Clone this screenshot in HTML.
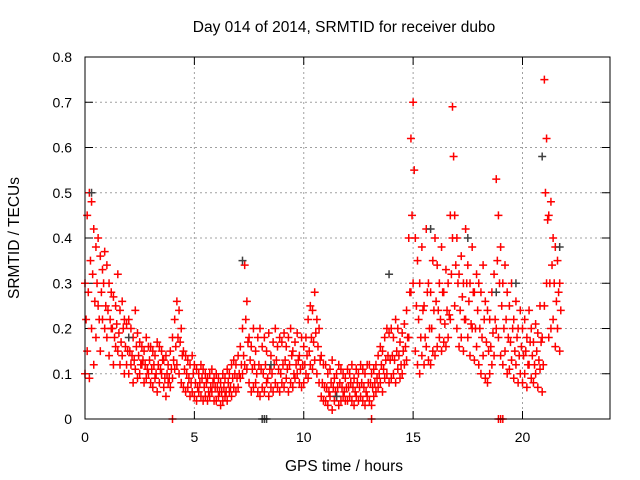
<!DOCTYPE html>
<html><head><meta charset="utf-8"><style>
body{margin:0;background:#fff}
svg{display:block;font-family:"Liberation Sans",sans-serif}
</style></head><body>
<svg id="chart" width="640" height="480" viewBox="0 0 640 480">
<rect width="640" height="480" fill="#fff"/>
<text x="344" y="32" text-anchor="middle" font-size="15.5">Day 014 of 2014, SRMTID for receiver dubo</text>
<text transform="translate(19,238) rotate(-90)" text-anchor="middle" font-size="15.5">SRMTID / TECUs</text>
<text x="344" y="471" text-anchor="middle" font-size="15.5">GPS time / hours</text>
<g id="grid"></g><g id="ticks"></g><g id="marks"></g>
<rect x="85" y="57" width="525" height="362" fill="none" stroke="#000" stroke-width="1"/>
</svg>
<script>
const xTicks=[0,5,10,15,20];
const yTicks=[0,0.1,0.2,0.3,0.4,0.5,0.6,0.7,0.8];
const yTickLabels=["0","0.1","0.2","0.3","0.4","0.5","0.6","0.7","0.8"];
const hours=[0.0,0.1,0.2,0.3,0.4,0.5,0.6,0.7,0.8,0.9,1.0,1.1,1.2,1.3,1.4,1.5,1.6,1.7,1.8,1.9,2.0,2.1,2.2,2.3,2.4,2.5,2.6,2.7,2.8,2.9,3.0,3.1,3.2,3.3,3.4,3.5,3.6,3.7,3.8,3.9,4.0,4.1,4.2,4.3,4.4,4.5,4.6,4.7,4.8,4.9,5.0,5.1,5.2,5.3,5.4,5.5,5.6,5.7,5.8,5.9,6.0,6.1,6.2,6.3,6.4,6.5,6.6,6.7,6.8,6.9,7.0,7.1,7.2,7.3,7.4,7.5,7.6,7.7,7.8,7.9,8.0,8.1,8.2,8.3,8.4,8.5,8.6,8.7,8.8,8.9,9.0,9.1,9.2,9.3,9.4,9.5,9.6,9.7,9.8,9.9,10.0,10.1,10.2,10.3,10.4,10.5,10.6,10.7,10.8,10.9,11.0,11.1,11.2,11.3,11.4,11.5,11.6,11.7,11.8,11.9,12.0,12.1,12.2,12.3,12.4,12.5,12.6,12.7,12.8,12.9,13.0,13.1,13.2,13.3,13.4,13.5,13.6,13.7,13.8,13.9,14.0,14.1,14.2,14.3,14.4,14.5,14.6,14.7,14.8,14.9,15.0,15.1,15.2,15.3,15.4,15.5,15.6,15.7,15.8,15.9,16.0,16.1,16.2,16.3,16.4,16.5,16.6,16.7,16.8,16.9,17.0,17.1,17.2,17.3,17.4,17.5,17.6,17.7,17.8,17.9,18.0,18.1,18.2,18.3,18.4,18.5,18.6,18.7,18.8,18.9,19.0,19.1,19.2,19.3,19.4,19.5,19.6,19.7,19.8,19.9,20.0,20.1,20.2,20.3,20.4,20.5,20.6,20.7,20.8,20.9,21.0,21.1,21.2,21.3,21.4,21.5,21.6,21.7];
const seriesHigh=[.30,.45,.50,.48,.42,.38,.40,.36,.33,.37, .34,.30,.28,.27,.25,.32,.24,.26,.22,.21, .22,.20,.18,.24,.19,.17,.16,.15,.18,.16, .16,.15,.14,.17,.16,.15,.13,.14,.12,.15, .18,.22,.26,.24,.20,.15,.14,.13,.12,.14, .12,.11,.10,.12,.11,.10,.09,.10,.11,.09, .10,.09,.08,.10,.09,.11,.10,.12,.13,.12, .14,.16,.20,.34,.26,.18,.16,.20,.15,.18, .20,.16,.18,.15,.19,.14,.17,.20,.16,.18, .17,.19,.16,.18,.20,.15,.17,.19,.14,.18, .16,.18,.22,.25,.24,.28,.22,.20,.14,.12, .12,.10,.11,.13,.09,.10,.12,.11,.10,.09, .11,.10,.12,.09,.11,.10,.12,.11,.10,.12, .12,.10,.11,.12,.14,.16,.15,.18,.20,.19, .20,.18,.22,.20,.17,.19,.21,.24,.40,.62, .70,.40,.35,.30,.38,.25,.42,.30,.28,.35, .40,.34,.30,.38,.28,.33,.30,.45,.69,.45, .40,.32,.36,.30,.42,.34,.30,.38,.28,.32, .30,.28,.34,.26,.24,.22,.28,.32,.53,.45, .38,.30,.34,.28,.25,.30,.22,.26,.20,.24, .20,.22,.18,.24,.20,.17,.21,.19,.25,.18, .75,.62,.45,.48,.40,.38,.35,.30];
const seriesMid=[.22,.28,.35,.32,.26,.30,.22,.28,.30,.25, .24,.22,.20,.18,.21,.19,.17,.20,.16,.15, .15,.14,.13,.16,.14,.12,.13,.12,.11,.13, .11,.12,.10,.12,.11,.13,.09,.10,.09,.11, .13,.16,.18,.17,.14,.11,.10,.09,.08,.10, .08,.07,.08,.09,.07,.08,.06,.07,.08,.07, .07,.06,.06,.07,.06,.08,.07,.09,.10,.09, .10,.12,.14,.22,.17,.13,.11,.12,.10,.12, .11,.10,.12,.09,.11,.10,.12,.13,.11,.10, .12,.13,.11,.12,.14,.10,.12,.13,.11,.12, .12,.14,.15,.18,.17,.19,.16,.13,.08,.07, .07,.06,.08,.07,.06,.07,.08,.07,.06,.07, .07,.08,.07,.06,.08,.07,.08,.07,.06,.08, .08,.07,.08,.09,.10,.12,.11,.13,.14,.13, .14,.13,.15,.14,.12,.15,.16,.18,.28,.45, .55,.25,.22,.18,.24,.18,.28,.20,.20,.24, .26,.24,.22,.28,.21,.24,.23,.32,.58,.34, .30,.24,.27,.22,.30,.26,.21,.28,.20,.24, .20,.18,.22,.17,.15,.16,.19,.22,.35,.30, .25,.20,.22,.18,.17,.20,.15,.18,.14,.16, .14,.15,.12,.17,.14,.12,.15,.13,.17,.12, .50,.44,.30,.34,.30,.26,.28,.24];
const seriesLow=[.10,.15,.09,.20,.12,.18,.25,.15,.22,.20, .18,.14,.20,.12,.16,.15,.12,.14,.10,.12, .10,.12,.08,.11,.09,.10,.12,.08,.09,.10, .08,.07,.09,.06,.08,.10,.07,.05,.08,.07, .09,.11,.12,.10,.08,.07,.06,.07,.05,.06, .05,.04,.06,.05,.04,.05,.04,.05,.06,.04, .04,.05,.03,.04,.05,.04,.06,.05,.07,.06, .07,.09,.10,.12,.11,.08,.06,.07,.08,.06, .05,.07,.06,.08,.05,.07,.06,.08,.07,.06, .08,.07,.09,.06,.08,.07,.09,.10,.08,.07, .08,.10,.09,.12,.11,.13,.10,.08,.05,.04, .04,.03,.05,.02,.04,.05,.03,.04,.05,.04, .04,.05,.04,.03,.05,.04,.05,.04,.03,.05, .04,.03,.05,.06,.07,.08,.06,.09,.10,.08, .09,.10,.08,.11,.09,.10,.12,.13,.18,.28, .30,.15,.12,.10,.14,.12,.16,.13,.12,.15, .14,.16,.18,.15,.17,.16,.18,.22,.40,.25, .20,.16,.18,.15,.22,.18,.14,.20,.13,.16, .12,.10,.14,.09,.08,.10,.12,.14,.20,.18, .14,.12,.15,.10,.11,.13,.09,.12,.08,.10, .08,.10,.07,.12,.09,.08,.10,.07,.11,.06, .25,.30,.18,.20,.22,.16,.20,.15];
const grayHours=[0.3,2.0,7.2,8.1,8.2,8.3,8.5,11.5,13.9,15.8,17.5,18.8,19.7,20.9,21.7];
const grayValues=[.50,.18,.35,0,0,0,.12,.05,.32,.42,.40,.28,.30,.58,.38];
const zeroHours=[4.0,13.1,18.9,19.0,19.1];
const zeroValues=[0,0,0,0,0];

const X0=85,X1=610,Y0=419,Y1=57;
const xs=h=>X0+(h/24)*(X1-X0);
const ys=v=>Y0-(v/0.8)*(Y0-Y1);
const NS="http://www.w3.org/2000/svg";
function mk(tag,attrs,parent){const e=document.createElementNS(NS,tag);for(const k in attrs)e.setAttribute(k,attrs[k]);parent.appendChild(e);return e;}
const grid=document.getElementById('grid'),ticks=document.getElementById('ticks'),marks=document.getElementById('marks');
yTicks.forEach((t,i)=>{const y=ys(t);
 if(i>0&&i<yTicks.length-1){const g=mk('line',{x1:X0,x2:X1,y1:y,y2:y,stroke:'#a0a0a0','stroke-dasharray':'2,3'},grid);
 
 }
 mk('line',{x1:X0,x2:X0+8,y1:y,y2:y,stroke:'#000'},ticks);
 mk('line',{x1:X1-8,x2:X1,y1:y,y2:y,stroke:'#000'},ticks);
 const tx=mk('text',{x:72,y:y+5,'text-anchor':'end','font-size':'14'},ticks);tx.textContent=yTickLabels[i];
 
 
});
xTicks.forEach(t=>{const x=xs(t);
 if(t>0){const g=mk('line',{x1:x,x2:x,y1:Y1,y2:Y0,stroke:'#a0a0a0','stroke-dasharray':'2,3'},grid);
 
 }
 mk('line',{x1:x,x2:x,y1:Y0,y2:Y0-8,stroke:'#000'},ticks);
 mk('line',{x1:x,x2:x,y1:Y1,y2:Y1+8,stroke:'#000'},ticks);
 const tx=mk('text',{x:x,y:442,'text-anchor':'middle','font-size':'14'},ticks);tx.textContent=String(t);
 
 
});
function plus(h,v,color,name){const x=xs(h),y=ys(v);
 const p=mk('path',{d:`M${x-4},${y}H${x+4}M${x},${y-4}V${y+4}`,stroke:color,'stroke-width':'1.5',fill:'none'},marks);
 
 }
hours.forEach((h,i)=>{plus(h,seriesLow[i],'#ff0000','srmtid-point');plus(h+0.05,seriesMid[i],'#ff0000','srmtid-point');plus(h,seriesHigh[i],'#ff0000','srmtid-point');});
zeroHours.forEach((h,i)=>plus(h,zeroValues[i],'#ff0000','srmtid-zero-point'));
grayHours.forEach((h,i)=>plus(h,grayValues[i],'#404040','srmtid-gray-point'));
</script>
</body></html>
